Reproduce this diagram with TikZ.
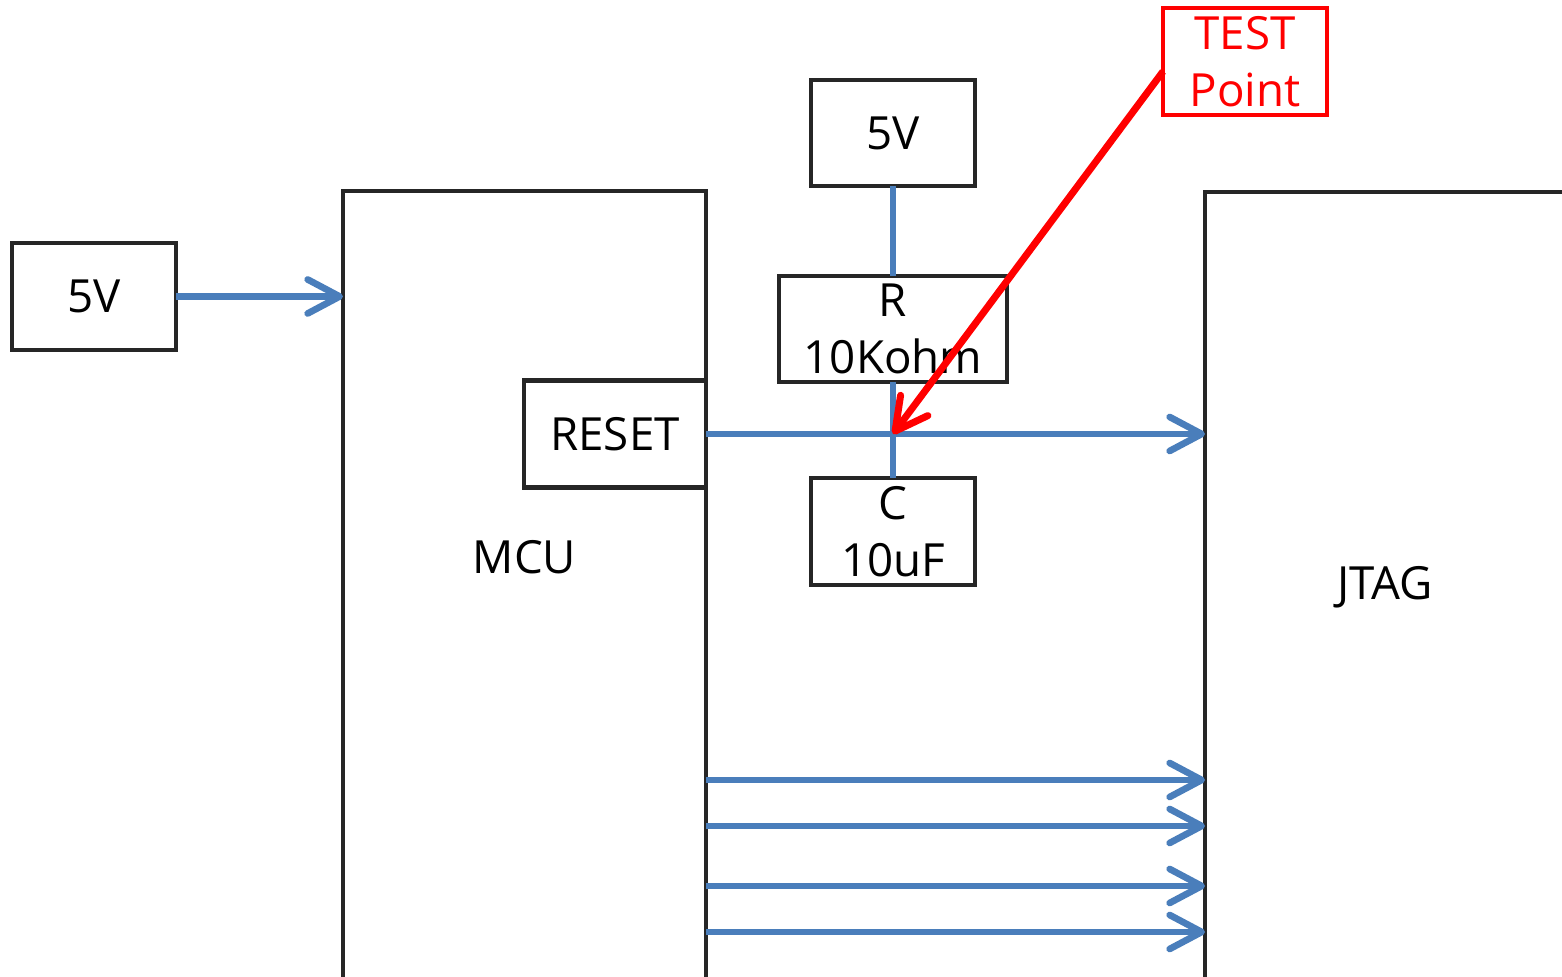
\documentclass[tikz,border=0pt]{standalone}
\usepackage{fontspec}
\setmainfont{Open Sans}
\usetikzlibrary{arrows.meta}
\definecolor{wireblue}{RGB}{74,126,187}
\definecolor{boxgray}{RGB}{38,38,38}
\def\tapy{5.43}
\def\pinlist{1.97,1.51,0.91,0.45}

\begin{document}
\begin{tikzpicture}[
    txt/.style={inner sep=0pt, align=center, font=\fontsize{13pt}{16.3pt}\selectfont},
    box/.style={txt, draw=boxgray, line width=1.4pt, outer sep=0pt, rectangle},
    wire/.style={draw=wireblue, line width=1.9pt},
    sig/.style={wire, -{Straight Barb[length=3.2mm,width=3.4mm,round]}},
    probe/.style={draw=red, line width=2pt, -{Straight Barb[length=3.2mm,width=3.4mm,round]}},
  ]
  \useasboundingbox (0,0) rectangle (15.62,9.77);
  \clip (0,0) rectangle (15.62,9.77);
  % supply and MCU
  \node[box, minimum width=1.64cm, minimum height=1.07cm] (vin) at (0.94,6.805) {5V};
  \node[box, minimum width=3.63cm, minimum height=8.2cm, anchor=north west] (mcu) at (3.43,7.86) {};
  \node[txt] (mculabel) at (5.245,4.20) {MCU};
  \node[box, minimum width=1.82cm, minimum height=1.07cm] (reset) at (6.15,\tapy) {RESET};
  % JTAG header
  \node[box, minimum width=4cm, minimum height=8.2cm, anchor=north west] (jtag) at (12.05,7.85) {};
  \node[txt] (jtaglabel) at (13.85,3.90) {JTAG};
  % RC network on the reset line
  \node[box, minimum width=1.64cm, minimum height=1.06cm] (vtop) at (8.93,8.44) {5V};
  \node[box, minimum width=2.28cm, minimum height=1.06cm] (rres) at (8.93,6.48) {R\\10Kohm};
  \node[box, minimum width=1.64cm, minimum height=1.07cm] (ccap) at (8.93,4.455) {C\\10uF};
  \node[box, draw=red, text=red, minimum width=1.64cm, minimum height=1.07cm] (test) at (12.45,9.155) {TEST\\Point};
  \coordinate (tap) at (rres.south |- reset.east);
  % wires
  \draw[sig] (vin) -- (vin -| mcu.west);
  \draw[wire] (vtop) -- (rres);
  \draw[wire] (rres) -- (ccap);
  \draw[sig] (reset.east) -- (reset.east -| jtag.west);
  \foreach \y [count=\i] in \pinlist {
    \coordinate (pin\i) at (mcu.east |- 0,\y);
    \draw[sig] (pin\i) -- (pin\i -| jtag.west);
  }
  % test point marker
  \draw[probe] ([yshift=-1mm]test.west) -- (tap);
\end{tikzpicture}
\end{document}
